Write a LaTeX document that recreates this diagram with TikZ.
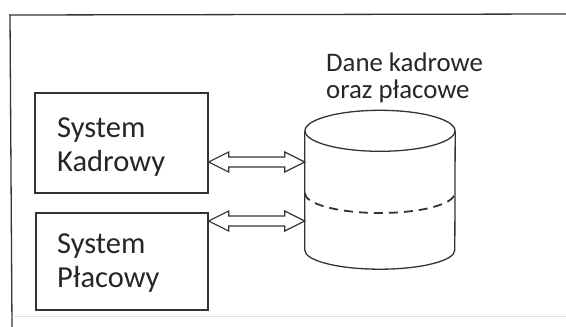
\documentclass[tikz,border=0pt]{standalone}
\usepackage{fontspec}
\setmainfont{Carlito}
\usetikzlibrary{calc}
\definecolor{ink}{HTML}{333333}
\definecolor{txt}{HTML}{262626}
\tikzset{
  box/.style={draw=ink, line width=1.3pt, inner sep=0pt},
  boxtext/.style={anchor=base west, align=left, inner sep=0pt, text=txt,
    font=\fontsize{30.5pt}{34pt}\selectfont},
  lbltext/.style={anchor=base west, align=left, inner sep=0pt, text=txt,
    font=\fontsize{26.8pt}{27pt}\selectfont},
  arr/.style={draw=ink, line width=1.2pt, line join=miter, fill=white},
  cyl/.style={draw=ink, line width=1.3pt},
  cut/.style={draw=ink, line width=1.8pt, dash pattern=on 9pt off 6pt},
  frameline/.style={draw=ink, line width=1.3pt}
}
\newcommand\dblarrow[2]{%
  \draw[arr] (#1) -- ++(20,10) -- ++(0,-5) -- ($(#2)+(-20,5)$) -- ++(0,5)
    -- (#2) -- ++(-20,-10) -- ++(0,5) -- ($(#1)+(20,-5)$) -- ++(0,-5) -- cycle;}
\begin{document}
\begin{tikzpicture}[x=1pt,y=1pt]
\useasboundingbox (0,0) rectangle (566,-327);
% frame
\draw[frameline] (9,-15) -- (566,-14);
\draw[frameline] (10,-15) -- (12,-327);
\draw[gray!25, line width=0.8pt] (12,-316) -- (566,-316);
% boxes
\node[box, minimum width=173pt, minimum height=100pt] (k) at (121.5,-143) {};
\node[box, minimum width=172pt, minimum height=97pt] (p) at (122,-261.5) {};
% multi-line nodes: base anchor is the baseline of the last line
\node[boxtext] (kt) at (57,-171) {System\\Kadrowy};
\node[boxtext] (pt) at (57,-287) {System\\Płacowy};
% database cylinder body (invisible anchor node)
\node[minimum width=150pt, minimum height=119pt, inner sep=0pt] (db) at (380,-190.5) {};
\draw[cyl] (db.north west) -- (db.south west)
  arc[start angle=180, end angle=360, x radius=75, y radius=19]
  -- (db.north east);
\draw[cyl] (db.north) ellipse [x radius=75, y radius=20.5];
\draw[cut] ($(db.west)+(0,-2.5)$) arc[start angle=180, end angle=360, x radius=75, y radius=20];
\node[lbltext] (lab) at (326,-98) {Dane kadrowe\\oraz płacowe};
% connectors
\path (k.east |- 0,-162) coordinate (a1l) (db.west |- 0,-162) coordinate (a1r);
\path (p.east |- 0,-221) coordinate (a2l) (db.west |- 0,-221) coordinate (a2r);
\dblarrow{a1l}{a1r}
\dblarrow{a2l}{a2r}
\end{tikzpicture}
\end{document}
